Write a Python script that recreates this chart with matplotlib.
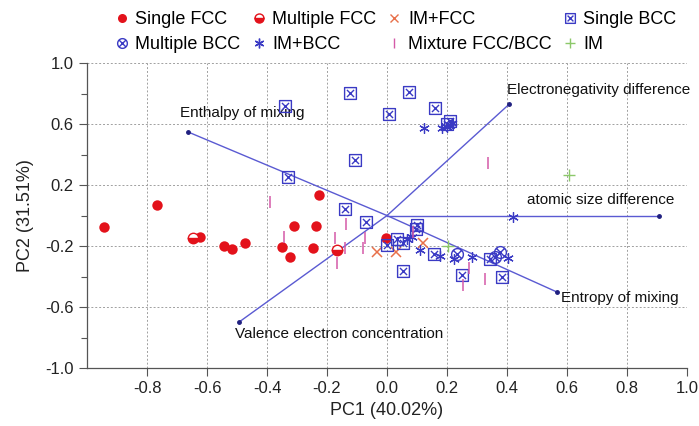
import numpy as np
import matplotlib
matplotlib.use("Agg")
import matplotlib.pyplot as plt
from matplotlib.path import Path
from matplotlib.lines import Line2D

plt.rcParams['font.family'] = ['Liberation Sans', 'DejaVu Sans']

# ---- data (PC scores) ----
single_fcc_x = [-0.943, -0.767, -0.623, -0.542, -0.518, -0.473, -0.351, -0.323, -0.311, -0.226, -0.237, -0.246, -0.005]
single_fcc_y = [-0.075, 0.069, -0.143, -0.200, -0.218, -0.182, -0.207, -0.272, -0.069, 0.134, -0.069, -0.215, -0.145]

multi_fcc_x = [-0.647, -0.166]
multi_fcc_y = [-0.148, -0.226]

im_fcc_x = [-0.034, 0.030, 0.119]
im_fcc_y = [-0.237, -0.237, -0.178]

single_bcc_x = [-0.340, -0.123, 0.074, 0.006, 0.159, 0.210, 0.200, -0.107, -0.329, -0.140,
                -0.071, -0.001, 0.032, 0.054, 0.099, 0.097, 0.054, 0.158, 0.249, 0.382, 0.343]
single_bcc_y = [0.720, 0.805, 0.810, 0.664, 0.705, 0.622, 0.600, 0.364, 0.254, 0.043,
                -0.040, -0.193, -0.156, -0.182, -0.062, -0.085, -0.364, -0.254, -0.392, -0.401, -0.287]

multi_bcc_x = [0.232, 0.360, 0.377]
multi_bcc_y = [-0.254, -0.270, -0.237]

im_bcc_x = [0.123, 0.182, 0.199, 0.210, 0.216, 0.419, 0.066, 0.082, 0.110, 0.177, 0.223, 0.282, 0.404]
im_bcc_y = [0.576, 0.572, 0.582, 0.593, 0.605, -0.008, -0.156, -0.139, -0.226, -0.266, -0.287, -0.270, -0.281]

mixture_x = [-0.390, -0.343, -0.138, -0.173, -0.140, -0.166, -0.073, -0.079, 0.274, 0.252, 0.327, 0.338, 0.085]
mixture_y = [0.090, -0.143, -0.056, -0.150, -0.215, -0.313, -0.150, -0.215, -0.346, -0.456, -0.418, 0.346, -0.110]

im_x = [0.608, 0.204]
im_y = [0.266, -0.198]

# loading vectors
vec_names = ["Electronegativity difference", "Enthalpy of mixing", "atomic size difference",
             "Entropy of mixing", "Valence electron concentration"]
vec_x = [0.407, -0.663, 0.907, 0.567, -0.493]
vec_y = [0.730, 0.548, 0.000, -0.502, -0.698]

# ---- styles ----
RED = "#e3121b"
BLUE = "#3a3ac4"
LINE = "#5a5ad2"
ORANGE = "#e8704a"
PINK = "#d45aa8"
GREEN = "#8cc86a"

# custom markers: square with cross, circle with cross
sq = [(-1, -1), (1, -1), (1, 1), (-1, 1), (-1, -1)]
d = 0.6
box_x = Path(sq + [(-d, -d), (d, d), (-d, d), (d, -d)],
             [Path.MOVETO, Path.LINETO, Path.LINETO, Path.LINETO, Path.CLOSEPOLY,
              Path.MOVETO, Path.LINETO, Path.MOVETO, Path.LINETO])
t = np.linspace(0, 2 * np.pi, 33)
circ = list(zip(np.cos(t), np.sin(t)))
c = 0.7
circ_x = Path(circ + [(-c, -c), (c, c), (-c, c), (c, -c)],
              [Path.MOVETO] + [Path.LINETO] * 32 + [Path.MOVETO, Path.LINETO, Path.MOVETO, Path.LINETO])

fig = plt.figure(figsize=(6.99, 4.26), dpi=100)
ax = fig.add_axes([0.1245, 0.136, 0.8584, 0.716])

ax.set_xlim(-1.0, 1.0)
ax.set_ylim(-1.0, 1.0)

# grid
ax.set_xticks(np.arange(-0.8, 1.01, 0.2))
ax.set_yticks([-1.0, -0.6, -0.2, 0.2, 0.6, 1.0])
ax.set_yticks([-0.8, -0.4, 0.0, 0.4, 0.8], minor=True)
ax.grid(True, which="major", color="#a0a0a0", linestyle=(0, (2, 2)), linewidth=0.7)
ax.set_axisbelow(True)
for s in ["top", "right"]:
    ax.spines[s].set_visible(False)
for s in ["left", "bottom"]:
    ax.spines[s].set_color("#555555")
    ax.spines[s].set_linewidth(0.9)
ax.tick_params(which="major", direction="out", length=6, width=0.8, color="#555555",
               labelsize=12, labelcolor="#222222")
ax.tick_params(which="minor", direction="out", length=4, width=0.8, color="#555555")
ax.set_xticklabels([f"{v:.1f}" if abs(v) > 1e-9 else "0.0" for v in np.arange(-0.8, 1.01, 0.2)])
ax.set_yticklabels(["-1.0", "-0.6", "-0.2", "0.2", "0.6", "1.0"])

ax.set_xlabel("PC1 (40.02%)", fontsize=13, color="#222222", labelpad=4)
ax.set_ylabel("PC2 (31.51%)", fontsize=13, color="#222222", labelpad=8)

# vectors
lab_pos = [(0.40, 0.823, "left"), (-0.69, 0.672, "left"), (0.467, 0.102, "left"),
           (0.58, -0.541, "left"), (-0.507, -0.777, "left")]
for name, vx, vy, (lx, ly, ha) in zip(vec_names, vec_x, vec_y, lab_pos):
    ax.plot([0, vx], [0, vy], color=LINE, linewidth=1.0, zorder=2)
    ax.plot([vx], [vy], "o", color="#202080", markersize=2.5, zorder=3)
    ax.text(lx, ly, name, fontsize=11, ha=ha, va="center", color="#111111", zorder=4)

ms = 7.5
ax.plot(single_fcc_x, single_fcc_y, "o", color=RED, markersize=ms, markeredgewidth=0, zorder=5)
ax.plot(multi_fcc_x, multi_fcc_y, "o", color=RED, markersize=ms, fillstyle="bottom",
        markerfacecoloralt="white", markeredgecolor=RED, markeredgewidth=1.0, zorder=5)
ax.plot(im_fcc_x, im_fcc_y, "x", color=ORANGE, markersize=7, markeredgewidth=1.1, linestyle="none", zorder=5)
ax.plot(single_bcc_x, single_bcc_y, marker=box_x, color=BLUE, markerfacecolor="none",
        markersize=8.5, markeredgewidth=1.0, linestyle="none", zorder=5)
ax.plot(multi_bcc_x, multi_bcc_y, marker=circ_x, color=BLUE, markerfacecolor="none",
        markersize=8.5, markeredgewidth=1.0, linestyle="none", zorder=5)
ax.plot(im_bcc_x, im_bcc_y, marker=(6, 2, 0), color=BLUE, markersize=7.5,
        markeredgewidth=0.9, linestyle="none", zorder=5)
ax.plot(mixture_x, mixture_y, "|", color=PINK, markersize=8, markeredgewidth=1.1, linestyle="none", zorder=5)
ax.plot(im_x, im_y, "+", color=GREEN, markersize=8, markeredgewidth=1.0, linestyle="none", zorder=5)

# legend (column-wise fill -> row layout like the reference)
h_sfcc = Line2D([], [], marker="o", color=RED, markersize=6.5, markeredgewidth=0, linestyle="none")
h_mfcc = Line2D([], [], marker="o", color=RED, markersize=6.5, fillstyle="bottom",
                markerfacecoloralt="white", markeredgecolor=RED, linestyle="none")
h_imfcc = Line2D([], [], marker="x", color=ORANGE, markersize=6, linestyle="none")
h_sbcc = Line2D([], [], marker=box_x, color=BLUE, markerfacecolor="none", markersize=7, linestyle="none")
h_mbcc = Line2D([], [], marker=circ_x, color=BLUE, markerfacecolor="none", markersize=7, linestyle="none")
h_imbcc = Line2D([], [], marker=(6, 2, 0), color=BLUE, markersize=7, linestyle="none")
h_mix = Line2D([], [], marker="|", color=PINK, markersize=7, markeredgewidth=1.0, linestyle="none")
h_im = Line2D([], [], marker="+", color=GREEN, markersize=7, linestyle="none")

handles = [h_sfcc, h_mbcc, h_mfcc, h_imbcc, h_imfcc, h_mix, h_sbcc, h_im]
labels = ["Single FCC", "Multiple BCC", "Multiple FCC", "IM+BCC", "IM+FCC",
          "Mixture FCC/BCC", "Single BCC", "IM"]
fig.legend(handles, labels, ncol=4, loc="upper left", bbox_to_anchor=(0.146, 1.003),
           frameon=False, fontsize=13, handlelength=0.8, handletextpad=0.35,
           columnspacing=0.6, labelspacing=0.45, borderpad=0.2)

fig.savefig("out.png", dpi=100)
